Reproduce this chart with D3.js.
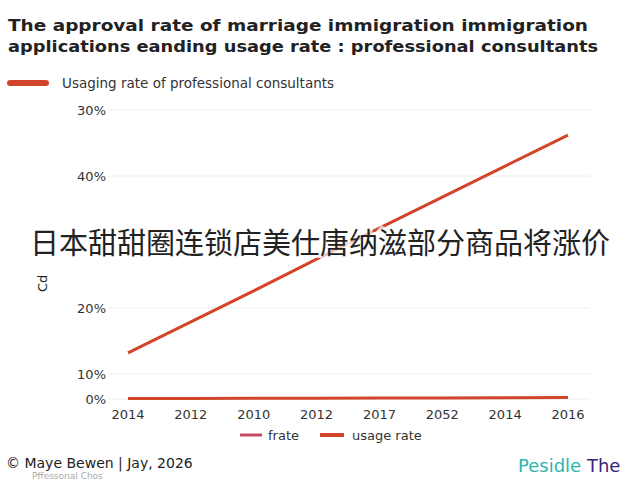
<!DOCTYPE html><html><head><meta charset="utf-8"><script src="https://cdn.jsdelivr.net/npm/d3@7"></script>
<style>body{margin:0;background:#fff}</style></head><body><svg width="640" height="480"></svg><script>
const categories=["2014","2012","2010","2012","2017","2052","2014","2016"];
const usage=[13.2,17.9,22.6,27.4,32.1,36.8,41.5,46.2];
const frate=[0.2,0.25,0.3,0.35,0.4,0.45,0.5,0.6];
const tickVals=[0,10,20,40,50];
const tickLabels=["0%","10%","20%","40%","30%"];
const svg=d3.select("svg");const F="DejaVu Sans, sans-serif";
svg.append("rect").attr("width",640).attr("height",480).attr("fill","#fff");
const x=d3.scalePoint().domain(d3.range(categories.length)).range([128,568]);
const y=d3.scaleLinear().domain([0,10,50]).range([399,374,110]);
const g=svg.append("g");
tickVals.forEach((v,i)=>{g.append("line").attr("x1",108).attr("x2",590).attr("y1",y(v)).attr("y2",y(v)).attr("stroke","#eee");
g.append("text").attr("x",106).attr("y",y(v)+5).attr("text-anchor","end").attr("font-family",F).attr("font-size",13).attr("fill","#333").text(tickLabels[i]);});
categories.forEach((c,i)=>g.append("text").attr("x",x(i)).attr("y",419).attr("text-anchor","middle").attr("font-family",F).attr("font-size",13).attr("fill","#333").text(c));
const line=d3.line().x((d,i)=>x(i)).y(d=>y(d));
svg.append("path").datum(usage).attr("d",line).attr("fill","none").attr("stroke","#d2452a").attr("stroke-width",3);
svg.append("path").datum(frate).attr("d",line).attr("fill","none").attr("stroke","#d2452a").attr("stroke-width",3);
svg.append("text").attr("transform","translate(47,292) rotate(-90)").attr("font-family",F).attr("font-size",13).attr("fill","#222").text("Cd");
svg.append("text").attr("x",8).attr("y",31).attr("font-family",F).attr("font-weight",700).attr("font-size",15).attr("textLength",580).attr("lengthAdjust","spacingAndGlyphs").attr("fill","#222").text("The approval rate of marriage immigration immigration");
svg.append("text").attr("x",8).attr("y",52).attr("font-family",F).attr("font-weight",700).attr("font-size",15).attr("textLength",590).attr("lengthAdjust","spacingAndGlyphs").attr("fill","#222").text("applications eanding usage rate : professional consultants");
svg.append("line").attr("x1",10).attr("x2",46).attr("y1",83).attr("y2",83).attr("stroke","#d2452a").attr("stroke-width",6).attr("stroke-linecap","round");
svg.append("text").attr("x",62).attr("y",88).attr("font-family",F).attr("font-size",13.5).attr("fill","#333").text("Usaging rate of professional consultants");
svg.append("line").attr("x1",240).attr("x2",262).attr("y1",435).attr("y2",435).attr("stroke","#c44a63").attr("stroke-width",3);
svg.append("text").attr("x",268).attr("y",440).attr("font-family",F).attr("font-size",13).attr("fill","#333").text("frate");
svg.append("line").attr("x1",320).attr("x2",344).attr("y1",435).attr("y2",435).attr("stroke","#d2452a").attr("stroke-width",4);
svg.append("text").attr("x",352).attr("y",440).attr("font-family",F).attr("font-size",13).attr("fill","#333").text("usage rate");
svg.append("text").attr("x",6).attr("y",468).attr("font-family",F).attr("font-size",14).attr("fill","#222").text("© Maye Bewen | Jay, 2026");
svg.append("text").attr("x",32).attr("y",479).attr("font-family",F).attr("font-size",9).attr("fill","#aaa").text("Pffessonal Chos");
const t=svg.append("text").attr("x",518).attr("y",472).attr("font-family",F).attr("font-size",18);
t.append("tspan").attr("fill","#2bb5b0").text("Pesidle ");t.append("tspan").attr("fill","#3a1f7a").text("The");
svg.append("text").attr("x",320).attr("y",254).attr("text-anchor","middle").attr("font-family","Noto Sans CJK SC").attr("font-size",29).attr("fill","#222").attr("stroke","#fff").attr("stroke-width",6).attr("stroke-opacity",0.7).attr("paint-order","stroke").text("日本甜甜圈连锁店美仕唐纳滋部分商品将涨价");
</script></body></html>
